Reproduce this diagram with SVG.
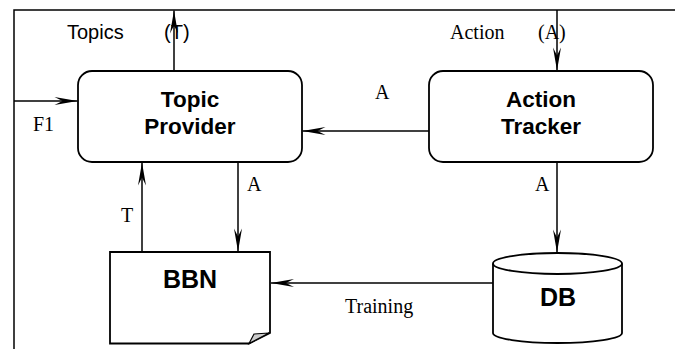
<svg xmlns="http://www.w3.org/2000/svg" width="675" height="349" viewBox="0 0 675 349">
<style>
.ln{stroke:#000;stroke-width:1.5;fill:none}
.box{stroke:#000;stroke-width:1.8;fill:#fff}
.nl{font-family:"Liberation Sans",Arial,sans-serif;font-weight:bold;fill:#000;text-anchor:middle}
.ss{font-family:"Liberation Sans",Arial,sans-serif;font-size:20px;fill:#000}
.sf{font-family:"Liberation Serif","Times New Roman",serif;font-size:20px;fill:#000}
</style>
<defs>
<marker id="ah" viewBox="-25 -6 27 12" refX="0" refY="0" markerWidth="27" markerHeight="12" markerUnits="userSpaceOnUse" orient="auto">
<path d="M0,0 L-23,-4 L-15,0 L-23,4 Z" fill="#000"/>
</marker>
</defs>
<rect width="675" height="349" fill="#fff"/>
<g id="frame">
<path class="ln" d="M14,349 L14,10 L675,10"/>
</g>
<g id="connectors">
<line class="ln" x1="174" y1="71" x2="174" y2="10.5" marker-end="url(#ah)"/>
<line class="ln" x1="557" y1="10" x2="557" y2="70.5" marker-end="url(#ah)"/>
<line class="ln" x1="14" y1="101" x2="77.5" y2="101" marker-end="url(#ah)"/>
<line class="ln" x1="429" y1="131" x2="302.5" y2="131" marker-end="url(#ah)"/>
<line class="ln" x1="142" y1="252" x2="142" y2="162.5" marker-end="url(#ah)"/>
<line class="ln" x1="238" y1="162" x2="238" y2="251.5" marker-end="url(#ah)"/>
<line class="ln" x1="557" y1="162" x2="557" y2="252.5" marker-end="url(#ah)"/>
<line class="ln" x1="493" y1="283" x2="271" y2="283" marker-end="url(#ah)"/>
<text class="ss" x="67" y="39">Topics</text>
<text class="ss" x="164" y="39">(T)</text>
<text class="sf" x="450" y="39">Action</text>
<text class="sf" x="538" y="39">(A)</text>
<text class="sf" x="33" y="131">F1</text>
<text class="sf" x="375" y="99">A</text>
<text class="sf" x="121" y="222">T</text>
<text class="sf" x="247" y="191">A</text>
<text class="sf" x="535" y="191">A</text>
<text class="sf" x="345" y="313">Training</text>
</g>
<g id="topic-provider">
<rect class="box" x="78" y="71" width="224" height="91" rx="14" ry="14"/>
<text class="nl" x="190" y="107" font-size="22.5">Topic</text>
<text class="nl" x="190" y="134" font-size="22.5">Provider</text>
</g>
<g id="action-tracker">
<rect class="box" x="429" y="71" width="224" height="91" rx="14" ry="14"/>
<text class="nl" x="541" y="107" font-size="22.5">Action</text>
<text class="nl" x="541" y="134" font-size="22.5">Tracker</text>
</g>
<g id="bbn">
<path class="box" d="M110,252 L270,252 L270,333 L249,343.5 L110,343.5 Z"/>
<path d="M249,343.5 L254,334 L269,333 Z" fill="#ccc" stroke="#000" stroke-width="1.2"/>
<text class="nl" x="190" y="288" font-size="25">BBN</text>
</g>
<g id="db">
<path class="box" d="M493,263.5 L493,333 A64.5,10 0 0 0 622,333 L622,263.5"/>
<ellipse class="box" cx="557.5" cy="263.5" rx="64.5" ry="10.5"/>
<text class="nl" x="558" y="306" font-size="25">DB</text>
</g>
</svg>
